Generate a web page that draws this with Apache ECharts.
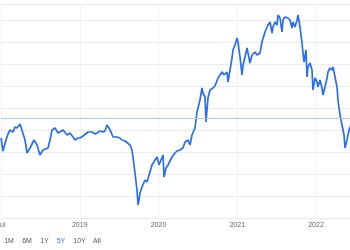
<!DOCTYPE html>
<html>
<head>
<meta charset="utf-8">
<script src="https://cdn.jsdelivr.net/npm/echarts@6/dist/echarts.min.js"></script>
<style>
html,body{margin:0;padding:0;background:#fff;}
#chart{width:350px;height:250px;}
</style>
</head>
<body>
<div id="chart"></div>
<script>
// months since the first tick (Jul)
const months = [0,0.30,0.76,1.07,1.37,1.83,2.13,2.44,2.90,3.20,3.66,3.96,4.42,4.72,5.03,5.49,5.94,6.40,6.70,7.16,7.47,7.77,8.23,8.69,8.99,9.45,10.06,10.51,10.97,11.28,11.73,12.04,12.50,12.80,13.26,13.56,13.87,14.32,14.63,15.09,15.54,15.85,16.15,16.46,16.76,17.07,17.37,17.68,18.13,18.44,18.90,19.20,19.66,19.96,20.11,20.42,20.72,20.88,21.03,21.18,21.49,21.94,22.25,22.70,23.01,23.47,23.77,24.08,24.38,24.69,24.84,25.14,25.45,25.75,26.06,26.51,26.82,27.28,27.73,28.04,28.50,28.80,29.10,29.56,29.87,30.32,30.63,30.78,31.09,31.24,31.54,31.85,32.30,32.61,33.07,33.37,33.68,33.98,34.44,34.59,34.90,35.20,35.35,35.66,35.96,36.11,36.42,36.72,36.88,37.18,37.49,37.64,37.94,38.25,38.70,39.01,39.16,39.47,39.77,39.92,40.23,40.69,40.99,41.30,41.45,41.75,42.06,42.21,42.51,42.82,42.97,43.28,43.73,44.04,44.34,44.50,44.80,45.11,45.26,45.56,45.87,46.02,46.17,46.48,46.63,46.78,47.09,47.39,47.54,47.85,48.15,48.30,48.61,48.91,49.07,49.37,49.68,49.83,50.13,50.44,50.59,50.90,51.20,51.35,51.66,51.96,52.27,52.42,52.72,53.03,53.33];
const prices = [80,67,78,84,88,86,91,90,94,92,78,65,70,68,78,73,63,68,68,70,78,88,90,85,86,88,83,85,81,78,80,80,82,83,86,84,86,84,85,87,86,87,93,90,86,81,80,81,80,78,77,75,73,68,61,45,28,13,18,25,31,38,36,46,53,58,61,53,58,63,41,50,53,55,61,65,67,68,70,76,78,73,83,90,106,118,130,125,121,96,120,128,130,132,140,143,146,143,146,136,148,160,168,173,180,176,161,143,153,161,170,165,155,163,166,163,161,165,176,175,186,193,196,185,191,196,193,203,200,186,198,201,200,198,190,196,191,198,203,191,175,165,156,168,141,151,155,148,128,140,136,131,138,130,123,131,140,146,150,148,151,141,131,118,103,93,83,70,78,88,93];
const tickLabels = ['Jul','2019','2020','2021','2022','2023'];
const referenceLevel = 100;
const rangeButtons = ['1M','6M','1Y','5Y','10Y','All'];
const activeRange = '5Y';

const chart = echarts.init(document.getElementById('chart'), null, {renderer:'canvas'});
const seriesData = months.map((m,i)=>[m, prices[i]]);
const btnX = [9,27,44.5,61,79.5,97];
chart.setOption({
  animation:false,
  backgroundColor:'#fff',
  textStyle:{fontFamily:'Liberation Sans, Arial, sans-serif'},
  grid:{left:1, top:4, width:393.75, height:214, containLabel:false, outerBoundsMode:'none'},
  xAxis:{
    type:'value', min:0, max:60, interval:12,
    axisLine:{show:true, lineStyle:{color:'#ebebeb', width:1}},
    axisTick:{show:false},
    axisLabel:{show:true, color:'#666', fontSize:7, margin:4,
      formatter:(v)=>tickLabels[Math.round(v/12)] || ''},
    splitLine:{show:true, lineStyle:{color:'#eef3f3', width:1}}
  },
  yAxis:{
    type:'value', min:0, max:214, interval:22,
    axisLine:{show:false}, axisTick:{show:false}, axisLabel:{show:false},
    splitLine:{show:true, lineStyle:{color:'#ececec', width:1}}
  },
  series:[{
    type:'line', data:seriesData, showSymbol:false, smooth:false,
    lineStyle:{color:'#2a6ef0', width:1.7},
    markLine:{silent:true, symbol:'none', label:{show:false},
      lineStyle:{color:'#a9c9f3', width:1, type:'solid'},
      data:[{yAxis:referenceLevel}]}
  }],
  graphic: rangeButtons.map((t,i)=>({
    type:'text', x:btnX[i], y:241,
    style:{text:t, fill: t===activeRange ? '#3a7af0' : '#555', fontSize:7,
      fontFamily:'Liberation Sans, Arial, sans-serif', align:'center', verticalAlign:'middle'}
  }))
});
</script>
</body>
</html>
